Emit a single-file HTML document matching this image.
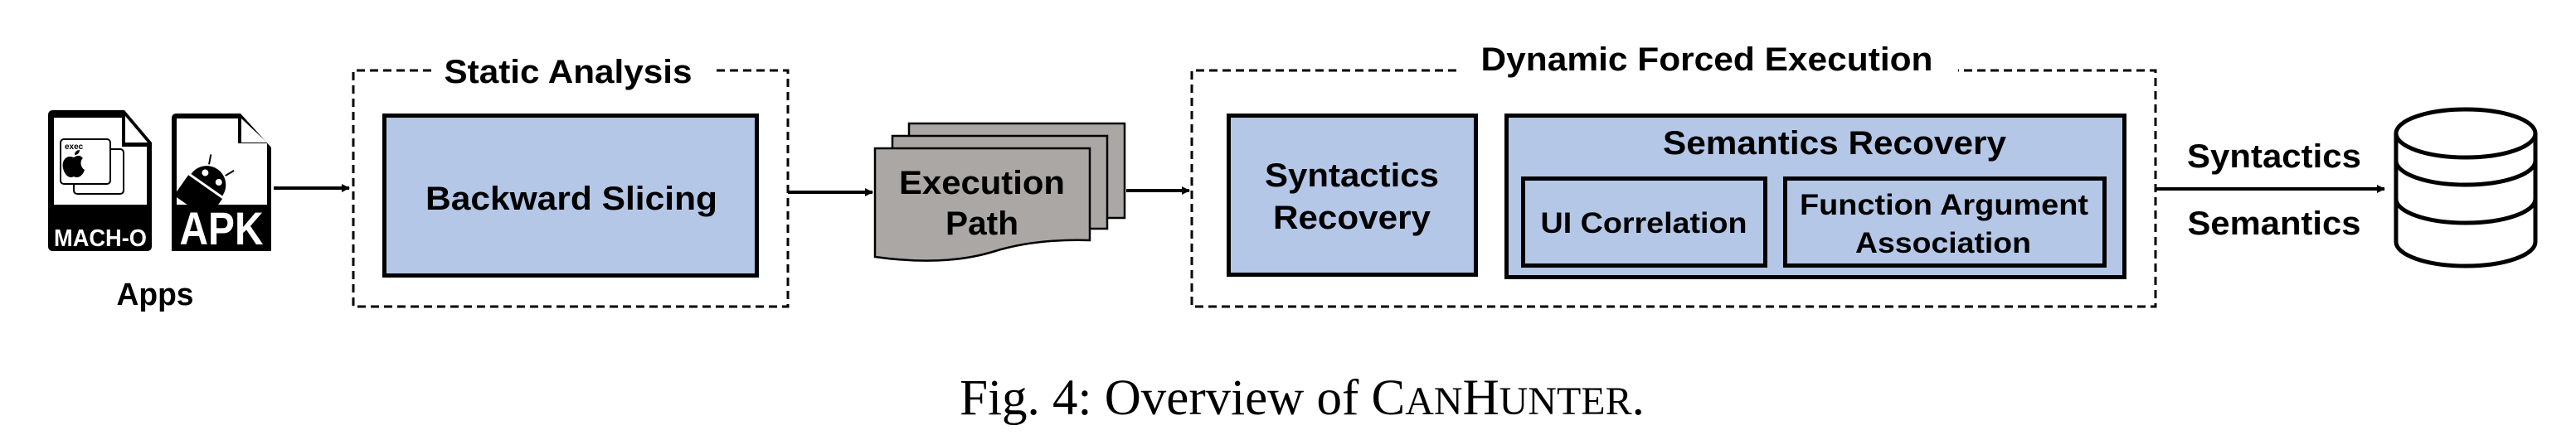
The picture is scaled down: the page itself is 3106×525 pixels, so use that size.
<!DOCTYPE html>
<html><head><meta charset="utf-8"><style>
html,body{margin:0;padding:0;background:#fff;}
svg{display:block;}
text{font-family:"Liberation Sans",Arial,sans-serif;font-weight:bold;fill:#000;}
</style></head><body>
<svg width="3106" height="525" viewBox="0 0 3106 525" xmlns="http://www.w3.org/2000/svg">
<defs>
<marker id="ah" markerWidth="10" markerHeight="10" refX="9" refY="5" orient="auto" markerUnits="userSpaceOnUse"><path d="M0,0 L10,5 L0,10 z" fill="#000"/></marker>
</defs>
<!-- MACH-O icon -->
<path d="M64,133 H150 L183,172 V297 Q183,303 177,303 H64 Q58,303 58,297 V139 Q58,133 64,133 z" fill="#000"/>
<path d="M65,142 H147 V177 H177 V247 H65 z" fill="#fff"/>
<path d="M151,140 L178,172 H151 z" fill="#fff"/>
<rect x="89" y="180" width="60" height="54" rx="4" fill="#fff" stroke="#000" stroke-width="2"/>
<rect x="73" y="168" width="60" height="54" rx="4" fill="#fff" stroke="#000" stroke-width="2"/>
<text x="78" y="180" font-size="10">exec</text>
<path d="M89,190 C80,186 74,194 76,203 C78,212 84,216 89,213 C94,216 100,212 102,205 C97,202 96,194 100,191 C96,186 92,188 89,190 z M90,187 C90,183 93,181 96,181 C96,185 93,187 90,187 z" fill="#000"/>
<text x="121" y="297" font-size="29" text-anchor="middle" style="fill:#fff" textLength="112" lengthAdjust="spacingAndGlyphs">MACH-O</text>
<!-- APK icon -->
<path d="M213,137 H290 L327,178 V297 Q327,303 321,303 H213 Q207,303 207,297 V143 Q207,137 213,137 z" fill="#000"/>
<path d="M213,143 H287 V173 H322 V247 H213 z" fill="#fff"/>
<path d="M291,143 L322,172 H291 z" fill="#fff"/>
<g transform="rotate(35 255 215)">
<path d="M232,225 A23,23 0 0 1 278,225 z" fill="#000"/>
<rect x="230" y="228" width="50" height="30" fill="#000"/>
<circle cx="245" cy="214" r="4" fill="#fff"/><circle cx="265" cy="214" r="4" fill="#fff"/>
<line x1="243" y1="203" x2="238" y2="192" stroke="#000" stroke-width="2"/>
<line x1="267" y1="203" x2="272" y2="192" stroke="#000" stroke-width="2"/>
</g>
<rect x="207" y="247" width="120" height="56" fill="#000"/>
<text x="267" y="295" font-size="56" text-anchor="middle" style="fill:#fff" textLength="101" lengthAdjust="spacingAndGlyphs">APK</text>
<text x="187" y="368" font-size="38" text-anchor="middle" textLength="93" lengthAdjust="spacingAndGlyphs">Apps</text>
<!-- arrows -->
<line x1="330" y1="227" x2="421" y2="227" stroke="#000" stroke-width="4" marker-end="url(#ah)"/>
<!-- Static Analysis -->
<path d="M520,85 H426 V370 H950 V85 H860" fill="none" stroke="#000" stroke-width="3" stroke-dasharray="10,6"/>
<text x="685" y="100" font-size="40" text-anchor="middle" textLength="299" lengthAdjust="spacingAndGlyphs">Static Analysis</text>
<rect x="463.5" y="139.5" width="449" height="193" fill="#b4c7e7" stroke="#000" stroke-width="5"/>
<text x="689" y="253" font-size="40" text-anchor="middle" textLength="352" lengthAdjust="spacingAndGlyphs">Backward Slicing</text>
<line x1="950" y1="232" x2="1052" y2="232" stroke="#000" stroke-width="4" marker-end="url(#ah)"/>
<!-- Execution Path -->
<rect x="1096" y="149" width="260" height="114" fill="#aaa7a5" stroke="#000" stroke-width="2.5"/>
<rect x="1076" y="164" width="259" height="112" fill="#aaa7a5" stroke="#000" stroke-width="2.5"/>
<path d="M1055,179 H1314 V290 Q1250,288 1200,303 Q1140,322 1055,310 z" fill="#aaa7a5" stroke="#000" stroke-width="2.5"/>
<text x="1184" y="234" font-size="40" text-anchor="middle" textLength="200" lengthAdjust="spacingAndGlyphs">Execution</text>
<text x="1184" y="283" font-size="40" text-anchor="middle" textLength="88" lengthAdjust="spacingAndGlyphs">Path</text>
<line x1="1358" y1="230" x2="1434" y2="230" stroke="#000" stroke-width="4" marker-end="url(#ah)"/>
<!-- Dynamic Forced Execution -->
<path d="M1756,85 H1437 V370 H2599 V85 H2361" fill="none" stroke="#000" stroke-width="3" stroke-dasharray="10,6"/>
<text x="2058" y="85" font-size="40" text-anchor="middle" textLength="545" lengthAdjust="spacingAndGlyphs">Dynamic Forced Execution</text>
<rect x="1481.5" y="139.5" width="298" height="192" fill="#b4c7e7" stroke="#000" stroke-width="5"/>
<text x="1630" y="225" font-size="40" text-anchor="middle" textLength="210" lengthAdjust="spacingAndGlyphs">Syntactics</text>
<text x="1630" y="276" font-size="40" text-anchor="middle" textLength="190" lengthAdjust="spacingAndGlyphs">Recovery</text>
<rect x="1816.5" y="139.5" width="745" height="195" fill="#b4c7e7" stroke="#000" stroke-width="5"/>
<text x="2212" y="186" font-size="40" text-anchor="middle" textLength="414" lengthAdjust="spacingAndGlyphs">Semantics Recovery</text>
<rect x="1836.5" y="215.5" width="292" height="105" fill="#b4c7e7" stroke="#000" stroke-width="5"/>
<text x="1982" y="281" font-size="35" text-anchor="middle" textLength="249" lengthAdjust="spacingAndGlyphs">UI Correlation</text>
<rect x="2152.5" y="215.5" width="385" height="105" fill="#b4c7e7" stroke="#000" stroke-width="5"/>
<text x="2344" y="259" font-size="35" text-anchor="middle" textLength="348" lengthAdjust="spacingAndGlyphs">Function Argument</text>
<text x="2343" y="305" font-size="35" text-anchor="middle" textLength="212" lengthAdjust="spacingAndGlyphs">Association</text>
<line x1="2599" y1="228" x2="2875" y2="228" stroke="#000" stroke-width="4" marker-end="url(#ah)"/>
<text x="2742" y="202" font-size="40" text-anchor="middle" textLength="210" lengthAdjust="spacingAndGlyphs">Syntactics</text>
<text x="2742" y="283" font-size="40" text-anchor="middle" textLength="209" lengthAdjust="spacingAndGlyphs">Semantics</text>
<!-- database -->
<g fill="none" stroke="#000" stroke-width="5">
<path d="M2889,161 V292 A84,29 0 0 0 3057,292 V161"/>
<ellipse cx="2973" cy="161" rx="84" ry="29" fill="#fff"/>
<path d="M2889,194 A84,29 0 0 0 3057,194"/>
<path d="M2889,240 A84,29 0 0 0 3057,240"/>
</g>
<!-- caption -->
<text x="1570" y="500" font-size="61" text-anchor="middle" style="font-family:'Liberation Serif',serif;font-weight:normal">Fig. 4: Overview of C<tspan font-size="48">AN</tspan>H<tspan font-size="48">UNTER</tspan>.</text>
</svg>
</body></html>
